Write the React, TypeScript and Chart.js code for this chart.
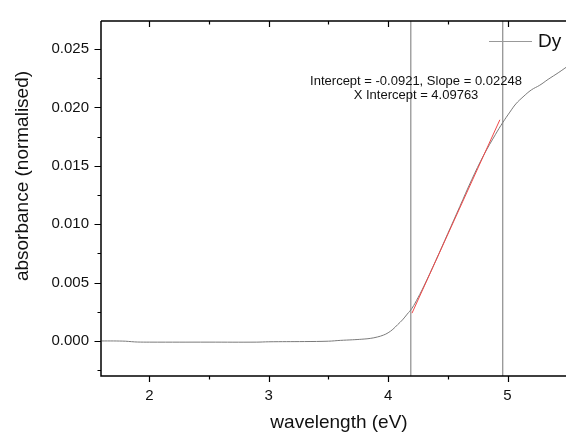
import React, { useEffect, useRef } from 'react';
import { Chart, registerables } from 'chart.js';
Chart.register(...registerables);

// Measured spectrum (Dy)
const energyEV = [1.6, 1.7, 1.8, 1.85, 1.9, 2.0, 2.5, 2.9, 3.0, 3.3, 3.5, 3.6, 3.7, 3.78, 3.85, 3.91, 3.96, 4.0, 4.04, 4.08, 4.12, 4.16, 4.2, 4.25, 4.3, 4.4, 4.5, 4.6, 4.7, 4.8, 4.9, 4.96, 5.02, 5.07, 5.13, 5.2, 5.27, 5.34, 5.43, 5.5];
const absorbance = [0.0, 0.0, -0.00002, -0.00006, -0.00009, -0.0001, -0.0001, -0.0001, -0.00007, -0.00005, -0.00002, 0.00005, 0.0001, 0.00015, 0.00022, 0.00034, 0.0005, 0.0007, 0.001, 0.0014, 0.0018, 0.0023, 0.0028, 0.0037, 0.0047, 0.0069, 0.0092, 0.0115, 0.0138, 0.0159, 0.0177, 0.0187, 0.0196, 0.0203, 0.0209, 0.0215, 0.0219, 0.0224, 0.023, 0.0235];

// Linear fit segment (red)
const fitX = [4.2, 4.936];
const fitY = [0.00238, 0.01894];

// Vertical cursor lines
const cursorX = [4.19, 4.96];

// Axes
const xMin = 1.595;
const xMax = 5.49;
const yMin = -0.003;
const yMax = 0.0274;
const xMajor = [2, 3, 4, 5];
const xMinor = [2.5, 3.5, 4.5];
const yMajor = [0, 0.005, 0.01, 0.015, 0.02, 0.025];
const yMinor = [-0.0025, 0.0025, 0.0075, 0.0125, 0.0175, 0.0225];

const seriesLabel = 'Dy';
const xTitle = 'wavelength (eV)';
const yTitle = 'absorbance (normalised)';
const fitLine1 = 'Intercept = -0.0921, Slope = 0.02248';
const fitLine2 = 'X Intercept = 4.09763';

const FONT = '"Liberation Sans", Arial, sans-serif';

const decoPlugin = {
  id: 'deco',
  afterDraw(chart: any) {
    const { ctx, chartArea: ca, scales } = chart;
    const x = scales.x;
    const y = scales.y;
    ctx.save();
    ctx.strokeStyle = '#000';
    ctx.lineWidth = 1.5;
    ctx.beginPath();
    ctx.moveTo(ca.left, ca.top);
    ctx.lineTo(ca.left, ca.bottom);
    ctx.lineTo(ca.right, ca.bottom);
    ctx.moveTo(ca.left, ca.top);
    ctx.lineTo(ca.right, ca.top);
    ctx.stroke();

    ctx.lineWidth = 1.2;
    ctx.beginPath();
    xMajor.forEach((v) => {
      const px = Math.round(x.getPixelForValue(v)) + 0.5;
      ctx.moveTo(px, ca.bottom); ctx.lineTo(px, ca.bottom + 6);
      ctx.moveTo(px, ca.top); ctx.lineTo(px, ca.top + 6);
    });
    xMinor.forEach((v) => {
      const px = Math.round(x.getPixelForValue(v)) + 0.5;
      ctx.moveTo(px, ca.bottom); ctx.lineTo(px, ca.bottom + 3.5);
      ctx.moveTo(px, ca.top); ctx.lineTo(px, ca.top + 3.5);
    });
    yMajor.forEach((v) => {
      const py = Math.round(y.getPixelForValue(v)) + 0.5;
      ctx.moveTo(ca.left, py); ctx.lineTo(ca.left - 6.5, py);
    });
    yMinor.forEach((v) => {
      const py = Math.round(y.getPixelForValue(v)) + 0.5;
      ctx.moveTo(ca.left, py); ctx.lineTo(ca.left - 3.5, py);
    });
    ctx.stroke();

    // Axis titles
    ctx.fillStyle = '#111';
    ctx.font = `19px ${FONT}`;
    ctx.textAlign = 'center';
    ctx.textBaseline = 'middle';
    ctx.fillText(xTitle, 339, 423);
    ctx.save();
    ctx.translate(23, 176);
    ctx.rotate(-Math.PI / 2);
    ctx.fillText(yTitle, 0, 0);
    ctx.restore();

    // Fit annotation
    ctx.font = `13px ${FONT}`;
    ctx.fillText(fitLine1, 416, 81.5);
    ctx.fillText(fitLine2, 416, 95);

    // Legend
    ctx.strokeStyle = '#999';
    ctx.lineWidth = 1;
    ctx.beginPath();
    ctx.moveTo(489, 41.5);
    ctx.lineTo(532, 41.5);
    ctx.stroke();
    ctx.font = `19px ${FONT}`;
    ctx.textAlign = 'left';
    ctx.fillText(seriesLabel, 538, 42);
    ctx.restore();
  },
};

export default function App() {
  const ref = useRef<HTMLCanvasElement>(null);
  useEffect(() => {
    if (!ref.current) return;
    const chart = new Chart(ref.current, {
      type: 'line',
      data: {
        datasets: [
          ...cursorX.map((cx) => ({
            label: 'cursor',
            data: [{ x: cx, y: yMin }, { x: cx, y: yMax }],
            borderColor: '#8c8c8c',
            borderWidth: 1.2,
            pointRadius: 0,
            order: 3,
          })),
          {
            label: seriesLabel,
            data: energyEV.map((e, i) => ({ x: e, y: absorbance[i] })),
            borderColor: '#7a7a7a',
            borderWidth: 1,
            pointRadius: 0,
            tension: 0.4,
            order: 2,
          },
          {
            label: 'fit',
            data: fitX.map((e, i) => ({ x: e, y: fitY[i] })),
            borderColor: '#f04848',
            borderWidth: 1,
            pointRadius: 0,
            order: 1,
          },
        ],
      },
      options: {
        responsive: false,
        animation: false,
        devicePixelRatio: 1,
        layout: { padding: { top: 14, right: 0, left: 0, bottom: 0 } },
        plugins: { legend: { display: false }, tooltip: { enabled: false } },
        scales: {
          x: {
            type: 'linear',
            min: xMin,
            max: xMax,
            afterFit: (s: any) => { s.height = 57; },
            afterBuildTicks: (s: any) => { s.ticks = xMajor.map((v) => ({ value: v })); },
            grid: { display: false, drawTicks: false },
            border: { display: false },
            ticks: {
              padding: 11,
              color: '#111',
              font: { family: FONT, size: 15 },
              callback: (v: any) => String(v),
              maxRotation: 0,
            },
          },
          y: {
            type: 'linear',
            min: yMin,
            max: yMax,
            afterFit: (s: any) => { s.width = 101; },
            afterBuildTicks: (s: any) => { s.ticks = yMajor.map((v) => ({ value: v })); },
            grid: { display: false, drawTicks: false },
            border: { display: false },
            ticks: {
              padding: 12,
              color: '#111',
              font: { family: FONT, size: 15 },
              callback: (v: any) => Number(v).toFixed(3),
            },
          },
        },
      },
      plugins: [decoPlugin],
    } as any);
    return () => chart.destroy();
  }, []);
  return (
    <div style={{ position: 'fixed', left: 0, top: 0, width: 566, height: 433, background: '#fff' }}>
      <canvas ref={ref} width={566} height={433} style={{ display: 'block' }} />
    </div>
  );
}
